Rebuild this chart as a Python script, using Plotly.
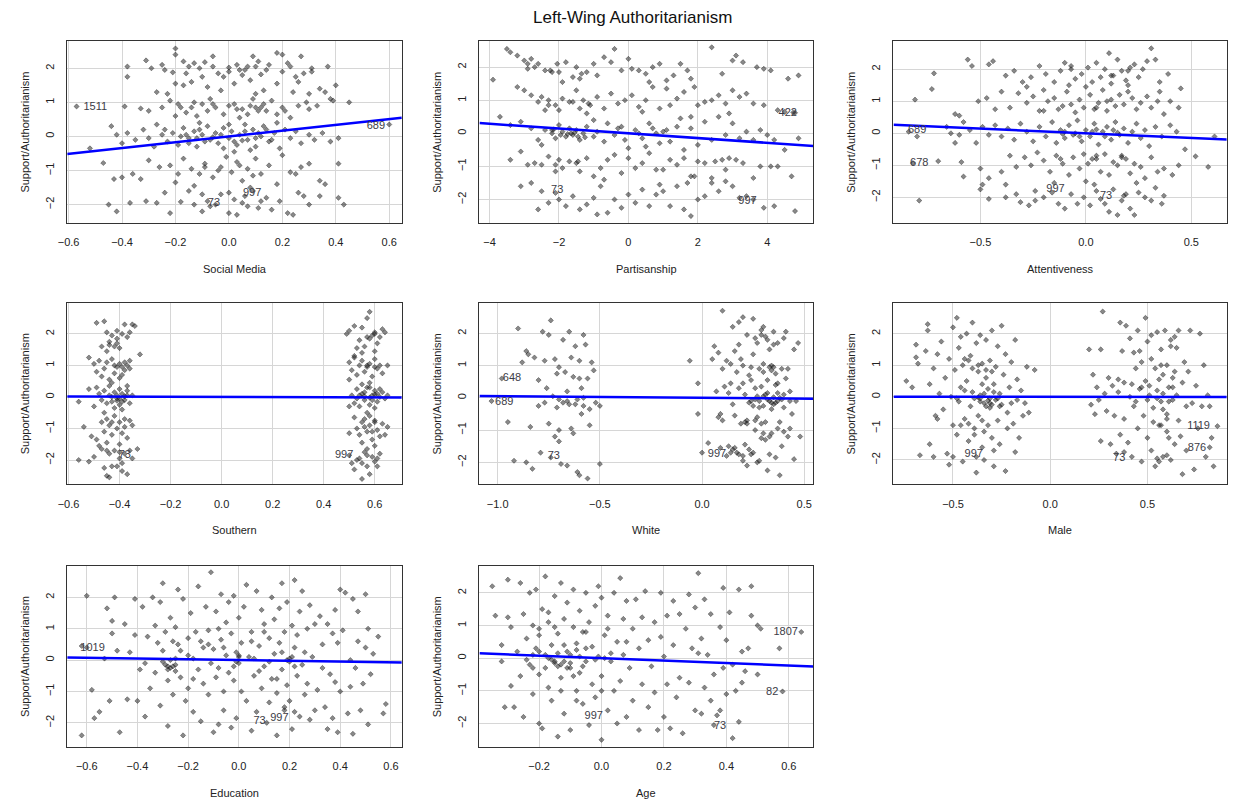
import plotly.graph_objects as go

# ---------------- data: added-variable residuals per predictor ----------------
social_media_pts = [
    (-0.38,2.05),(-0.31,2.23),(-0.29,2.0),(-0.25,2.1),(-0.21,1.88),(-0.2,2.4),(-0.2,2.58),(-0.17,2.2),(-0.15,2.05),(-0.13,2.15),
    (-0.11,2.0),(-0.09,2.18),(-0.06,2.05),(-0.04,1.85),(-0.02,1.75),(0.0,2.02),(0.0,1.9),(0.03,2.1),(0.06,1.95),(0.07,2.05),
    (0.09,2.35),(0.11,2.2),(0.12,1.82),(0.14,1.95),(0.18,2.45),(0.2,2.4),(0.2,1.9),(0.23,2.05),(0.25,1.75),(0.27,2.35),
    (0.31,2.0),(0.31,1.9),(0.37,2.05),(-0.06,2.35),(0.15,2.1),(0.22,2.15),(-0.24,1.95),(0.05,1.8),(-0.1,1.75),(0.28,1.85),
    (-0.27,1.3),(-0.23,1.25),(-0.17,1.5),(-0.14,1.6),(-0.08,1.45),(-0.03,1.35),(0.02,1.55),(0.08,1.65),(0.1,1.25),(0.13,1.35),
    (0.18,1.55),(0.24,1.3),(0.3,1.25),(0.34,1.4),(0.38,1.1),(0.4,1.5),(0.36,1.3),(-0.38,1.75),(0.26,1.6),(-0.2,1.55),
    (-0.39,0.88),(-0.33,0.82),(-0.3,0.75),(-0.25,0.85),(-0.22,1.05),(-0.18,0.85),(-0.16,0.7),(-0.13,1.0),(-0.1,0.95),(-0.08,0.75),
    (-0.05,0.85),(-0.02,0.65),(0.0,0.9),(0.02,0.95),(0.05,0.8),(0.07,0.65),(0.09,1.1),(0.1,0.85),(0.12,0.85),(0.14,0.75),
    (0.16,1.05),(0.2,0.85),(0.21,0.75),(0.23,0.55),(0.26,0.9),(0.29,1.0),(0.3,0.8),(0.33,0.9),(0.39,1.05),(0.45,1.0),
    (-0.12,0.6),(0.04,0.55),(-0.2,0.6),(0.18,0.65),(-0.07,1.1),(-0.57,0.88),
    (-0.52,-0.35),(-0.44,0.3),(-0.42,0.05),(-0.4,-0.2),(-0.38,0.1),(-0.35,-0.1),(-0.32,0.2),(-0.3,-0.05),(-0.27,0.35),(-0.25,0.05),
    (-0.23,-0.15),(-0.21,0.1),(-0.19,-0.25),(-0.17,0.25),(-0.15,-0.05),(-0.13,0.15),(-0.12,-0.3),(-0.1,0.05),(-0.08,0.3),(-0.07,-0.1),
    (-0.05,0.1),(-0.04,-0.2),(-0.02,0.25),(0.0,-0.05),(0.01,0.15),(0.03,-0.25),(0.04,0.05),(0.06,0.35),(0.07,-0.1),(0.09,0.2),
    (0.1,-0.3),(0.12,0.0),(0.13,0.3),(0.15,-0.15),(0.17,0.1),(0.19,-0.35),(0.21,0.2),(0.23,-0.05),(0.25,0.15),(0.27,-0.2),
    (0.3,0.05),(0.32,-0.1),(0.35,0.1),(0.38,-0.15),(0.41,-0.05),(0.6,0.35),(-0.11,0.4),(0.08,-0.4),(-0.28,-0.3),(0.18,0.4),
    (0.02,-0.45),(-0.16,0.05),(-0.06,-0.02),(0.05,-0.12),(-0.09,-0.15),(0.11,0.1),
    (-0.47,-0.78),(-0.4,-1.2),(-0.36,-1.1),(-0.33,-1.25),(-0.3,-0.7),(-0.26,-0.9),(-0.22,-0.85),(-0.19,-1.1),(-0.17,-0.65),(-0.14,-0.95),
    (-0.11,-1.1),(-0.09,-0.8),(-0.06,-1.2),(-0.03,-0.9),(-0.01,-0.6),(0.01,-1.05),(0.03,-0.75),(0.05,-1.3),(0.07,-0.95),(0.1,-0.65),
    (0.12,-1.1),(0.15,-0.85),(0.18,-1.4),(0.2,-0.55),(0.23,-1.05),(0.25,-1.1),(0.27,-0.9),(0.3,-0.8),(0.34,-1.3),(0.36,-1.4),
    (0.41,-0.8),(-0.43,-1.25),(-0.13,-1.45),(0.08,-1.5),(-0.2,-1.35),
    (-0.45,-2.0),(-0.42,-2.2),(-0.37,-1.95),(-0.31,-1.9),(-0.27,-1.95),(-0.22,-2.25),(-0.18,-1.92),(-0.15,-1.6),(-0.13,-2.0),(-0.1,-2.2),
    (-0.08,-1.9),(-0.05,-2.0),(-0.03,-1.7),(0.0,-1.65),(0.0,-2.25),(0.03,-2.3),(0.05,-1.95),(0.07,-2.05),(0.09,-1.6),(0.11,-2.1),
    (0.14,-1.8),(0.16,-2.15),(0.19,-1.9),(0.22,-2.25),(0.24,-2.3),(0.26,-1.65),(0.28,-1.75),(0.3,-2.0),(0.34,-1.75),(0.41,-1.8),
    (0.43,-2.0),(-0.24,-1.65),(0.02,-1.85),(-0.07,-2.05),
    (-0.19,0.95),(-0.14,0.85),(-0.06,0.95),(0.03,0.8),(0.08,0.9),(0.11,0.75),(0.13,0.95),(-0.15,-0.2),(-0.11,0.2),(-0.03,0.05),
    (0.02,-0.15),(0.06,0.15),(0.1,-0.05),(-0.18,0.0),(-0.09,-0.9),(-0.04,-1.0),(0.04,-0.85),(0.09,-1.15),(-0.1,-1.7),(0.06,-1.75),
    (0.12,-1.9),(-0.16,1.85),(0.04,1.95),(0.1,2.05),(-0.12,-0.05),(0.14,0.2),(0.16,-0.1),(-0.02,-0.35),(0.0,0.35),(-0.24,0.2),
]

partisanship_pts = [
    (-3.9,1.62),(-3.5,2.55),(-3.4,2.45),(-3.2,2.35),(-3.0,2.2),(-2.9,2.1),(-2.8,2.25),(-2.7,2.0),(-2.6,2.1),(-2.4,1.9),
    (-2.2,1.85),(-2.05,2.1),(-2.0,1.85),(-1.8,2.15),(-1.6,1.7),(-1.5,2.0),(-1.4,1.65),(-1.2,1.85),(-1.0,2.1),(-0.9,1.75),
    (-0.7,2.3),(-0.5,2.15),(-0.4,2.55),(-0.2,1.9),(0.0,2.25),(0.1,1.95),(0.3,1.9),(0.5,1.8),(0.7,2.0),(0.9,2.1),
    (1.1,1.6),(1.3,1.75),(1.5,2.1),(1.7,1.9),(1.8,1.65),(2.4,2.6),(3.0,2.2),(3.1,2.35),(3.3,2.15),(3.7,2.0),
    (3.9,1.95),(4.1,1.9),(4.6,1.65),(4.9,1.75),(-1.9,1.55),(0.6,1.55),(-2.9,1.95),
    (-3.2,1.4),(-3.0,1.3),(-2.8,1.15),(-2.6,0.95),(-2.5,1.1),(-2.3,1.0),(-2.1,0.85),(-2.0,0.7),(-1.9,1.05),(-1.7,0.95),
    (-1.5,1.3),(-1.4,0.75),(-1.3,1.0),(-1.1,0.85),(-0.9,1.1),(-0.7,0.75),(-0.5,1.2),(-0.3,0.9),(-0.1,1.0),(0.1,1.15),
    (0.3,0.8),(0.5,1.0),(0.7,1.4),(0.9,0.75),(1.1,1.35),(1.2,0.85),(1.4,1.05),(1.6,1.25),(1.8,0.5),(2.0,0.85),
    (2.2,0.95),(2.4,1.0),(2.6,1.15),(2.8,0.9),(3.0,1.3),(3.2,1.1),(3.4,1.2),(3.6,0.9),(3.9,0.85),(4.3,0.7),
    (4.8,0.62),(4.5,0.65),(-1.2,0.6),(0.4,0.65),(-2.4,0.7),(1.9,1.4),(2.7,1.8),
    (-3.7,0.5),(-3.4,0.25),(-3.1,0.35),(-2.8,0.15),(-2.6,-0.2),(-2.4,0.1),(-2.2,0.0),(-2.1,-0.15),(-2.0,0.25),(-1.9,0.05),
    (-1.8,-0.1),(-1.7,0.15),(-1.6,-0.05),(-1.5,0.1),(-1.4,-0.2),(-1.3,0.0),(-1.2,0.2),(-1.0,-0.1),(-0.9,0.05),(-0.7,-0.25),
    (-0.6,0.3),(-0.4,-0.05),(-0.3,0.15),(-0.1,-0.2),(0.0,-0.45),(0.2,0.1),(0.4,-0.15),(0.6,0.3),(0.8,0.0),(0.9,-0.3),
    (1.0,0.05),(1.2,-0.25),(1.4,0.2),(1.6,-0.5),(1.8,0.15),(2.0,-0.35),(2.2,0.35),(2.4,-0.2),(2.6,0.5),(2.8,-0.05),
    (3.0,0.3),(3.2,-0.15),(3.4,0.05),(3.6,-0.2),(3.8,0.1),(4.0,-0.05),(4.2,-0.2),(4.5,-0.5),(4.9,-0.15),(-1.0,0.4),
    (1.5,0.45),(-2.5,-0.35),(0.5,-0.4),(2.9,0.6),(-1.75,-0.02),(-1.55,0.02),(-2.15,0.12),(-1.25,-0.12),
    (-3.1,-0.55),(-2.9,-0.95),(-2.7,-0.9),(-2.5,-0.95),(-2.3,-0.7),(-2.1,-1.15),(-2.0,-0.8),(-1.9,-1.05),(-1.7,-0.85),(-1.5,-0.9),
    (-1.4,-1.15),(-1.2,-0.75),(-1.0,-1.3),(-0.8,-1.05),(-0.6,-0.8),(-0.4,-0.65),(-0.2,-1.2),(0.0,-0.75),(0.2,-1.05),(0.4,-0.9),
    (0.6,-0.6),(0.8,-1.1),(1.0,-1.1),(1.2,-0.8),(1.4,-0.95),(1.6,-0.75),(1.8,-1.3),(2.0,-0.85),(2.2,-0.9),(2.4,-1.35),
    (2.5,-0.85),(2.7,-0.8),(2.9,-0.75),(3.1,-0.8),(3.3,-0.9),(3.6,-1.35),(3.8,-1.0),(4.1,-1.0),(4.3,-1.0),(4.7,-1.3),
    (-3.4,-0.8),(-0.7,-1.4),(1.7,-1.5),(2.8,-1.1),
    (-3.1,-1.6),(-2.8,-1.5),(-2.5,-1.75),(-2.3,-2.1),(-2.1,-1.8),(-2.0,-2.0),(-1.8,-2.2),(-1.6,-1.9),(-1.4,-2.3),(-1.2,-2.15),
    (-1.0,-1.95),(-0.9,-2.45),(-0.8,-1.6),(-0.6,-2.4),(-0.4,-2.0),(-0.2,-2.25),(0.0,-1.85),(0.2,-2.1),(0.4,-1.7),(0.6,-2.2),
    (0.8,-1.85),(1.0,-1.75),(1.2,-2.2),(1.4,-1.6),(1.6,-2.3),(1.8,-2.5),(2.0,-2.0),(2.2,-1.9),(2.4,-1.5),(2.6,-1.75),
    (2.8,-1.45),(3.0,-1.6),(3.2,-1.95),(3.4,-1.9),(3.6,-2.0),(3.9,-2.25),(4.2,-2.2),(4.8,-2.35),(-2.6,-2.3),(0.9,-1.55),
    (1.9,-1.3),(4.75,0.63),
    (-2.2,0.1),(-1.95,-0.05),(-1.65,0.0),(-1.45,-0.1),(-2.3,0.85),(-1.6,0.95),(-1.15,0.9),(-2.1,-0.95),(-1.45,-0.85),(-2.25,1.9),
    (-1.35,1.8),(0.3,0.0),(0.7,0.15),(-0.2,0.2),(1.1,0.1),
]

attentiveness_pts = [
    (-0.72,1.87),(-0.81,1.05),(-0.73,1.38),(-0.56,2.3),(-0.54,2.1),(-0.46,2.15),(-0.44,2.25),(-0.38,1.8),(-0.34,1.95),(-0.3,1.6),
    (-0.26,1.75),(-0.22,2.1),(-0.19,1.85),(-0.15,1.6),(-0.12,1.95),(-0.1,2.2),(-0.07,2.1),(-0.05,1.7),(-0.02,1.85),(0.01,2.05),
    (0.03,1.6),(0.05,2.2),(0.07,1.75),(0.09,2.0),(0.11,2.5),(0.13,1.8),(0.15,2.3),(0.17,1.95),(0.19,1.65),(0.21,2.05),
    (0.23,2.15),(0.25,1.75),(0.27,2.0),(0.29,2.25),(0.31,2.65),(0.33,2.3),(0.35,1.6),(0.39,1.85),(-0.28,1.45),(0.0,1.45),
    (0.2,1.5),(-0.08,1.5),(0.12,1.55),
    (-0.51,1.0),(-0.47,1.1),(-0.43,0.75),(-0.4,1.3),(-0.36,0.8),(-0.32,1.25),(-0.28,0.95),(-0.25,1.15),(-0.22,0.7),(-0.18,1.0),
    (-0.15,1.1),(-0.13,0.75),(-0.11,0.85),(-0.09,1.3),(-0.07,0.9),(-0.05,0.65),(-0.03,1.05),(-0.01,0.8),(0.02,1.2),(0.04,0.75),
    (0.06,0.95),(0.08,1.35),(0.1,0.7),(0.12,1.05),(0.14,0.85),(0.16,1.2),(0.18,0.9),(0.2,1.3),(0.22,1.1),(0.24,0.75),
    (0.26,0.95),(0.29,1.15),(0.31,0.8),(0.34,1.0),(0.37,0.6),(0.4,1.0),(0.44,0.8),(0.45,1.4),(-0.6,0.55),(-0.62,0.6),
    (0.35,1.3),(-0.2,1.35),
    (-0.84,0.05),(-0.8,-0.1),(-0.66,0.2),(-0.64,0.0),(-0.62,-0.3),(-0.58,0.35),(-0.55,0.1),(-0.52,-0.3),(-0.49,0.2),(-0.46,-0.05),
    (-0.43,0.25),(-0.4,-0.1),(-0.37,0.15),(-0.34,-0.2),(-0.31,0.3),(-0.28,0.05),(-0.25,-0.25),(-0.22,0.2),(-0.19,-0.1),(-0.16,0.35),
    (-0.14,-0.3),(-0.12,0.1),(-0.1,-0.15),(-0.08,0.25),(-0.06,-0.05),(-0.04,0.4),(-0.02,-0.25),(0.0,0.1),(0.02,-0.1),(0.04,0.3),
    (0.06,-0.35),(0.08,0.05),(0.1,0.2),(0.12,-0.2),(0.14,0.35),(0.16,-0.05),(0.18,0.15),(0.2,-0.3),(0.22,0.05),(0.24,0.3),
    (0.26,-0.15),(0.28,0.1),(0.3,-0.4),(0.33,0.2),(0.36,-0.1),(0.4,0.25),(0.43,0.05),(0.47,-0.5),(0.61,-0.1),(-0.6,-0.05),
    (-0.11,-0.02),(0.05,0.12),(-0.03,-0.1),(0.15,0.02),(-0.82,-0.93),
    (-0.7,-0.87),(-0.59,-0.9),(-0.58,-1.35),(-0.5,-1.1),(-0.46,-1.4),(-0.4,-1.2),(-0.36,-0.7),(-0.33,-1.05),(-0.29,-0.75),(-0.26,-1.0),
    (-0.23,-0.6),(-0.2,-0.85),(-0.17,-1.2),(-0.14,-0.7),(-0.11,-0.95),(-0.08,-1.3),(-0.06,-0.75),(-0.03,-1.1),(-0.01,-0.65),(0.01,-0.95),
    (0.03,-0.8),(0.05,-0.7),(0.07,-1.2),(0.09,-0.65),(0.11,-1.3),(0.13,-0.9),(0.15,-1.0),(0.17,-0.7),(0.19,-0.8),(0.21,-1.25),
    (0.23,-0.95),(0.26,-1.05),(0.28,-1.4),(0.31,-0.75),(0.34,-1.2),(0.37,-1.1),(0.41,-1.3),(0.44,-1.0),(0.52,-0.72),(0.58,-1.05),
    (-0.38,-1.6),(0.0,-1.5),(0.24,-1.55),
    (-0.79,-2.1),(-0.5,-1.75),(-0.49,-1.6),(-0.46,-2.05),(-0.38,-2.0),(-0.33,-1.9),(-0.31,-2.15),(-0.27,-2.25),(-0.24,-2.1),(-0.2,-2.0),
    (-0.16,-1.85),(-0.13,-2.2),(-0.1,-2.35),(-0.07,-1.9),(-0.04,-2.2),(-0.01,-2.0),(0.02,-2.25),(0.05,-1.8),(0.07,-2.05),(0.09,-2.2),
    (0.11,-2.45),(0.13,-1.75),(0.15,-2.55),(0.17,-2.1),(0.19,-1.9),(0.21,-2.35),(0.23,-2.55),(0.25,-1.85),(0.28,-2.0),(0.31,-2.1),
    (0.33,-1.7),(0.36,-2.2),(0.37,-1.95),(-0.24,-1.8),(0.04,-1.6),(-0.15,-1.55),
    (-0.05,0.0),(0.03,0.05),(0.09,-0.1),(0.13,0.1),(-0.1,0.05),(0.05,0.8),(0.1,1.0),(-0.12,-0.8),(0.05,-0.8),(0.17,-0.75),
    (0.12,1.8),(0.2,1.95),(-0.07,2.0),(0.18,-1.95),(-0.2,0.7),
]

southern_pts = [
    (-0.49,2.35),(-0.46,2.4),(-0.45,2.05),(-0.43,1.95),(-0.41,2.1),(-0.39,2.0),(-0.37,1.9),(-0.38,2.3),(-0.35,2.3),(-0.34,2.25),
    (-0.44,1.75),(-0.42,1.6),(-0.4,1.55),(-0.47,1.6),(-0.41,1.85),(-0.36,2.05),(-0.32,1.35),(-0.45,1.45),
    (-0.52,1.25),(-0.5,1.05),(-0.48,1.15),(-0.46,0.9),(-0.45,1.1),(-0.43,1.2),(-0.42,0.75),(-0.41,0.95),(-0.4,1.05),(-0.39,0.7),
    (-0.38,0.85),(-0.37,1.0),(-0.36,1.15),(-0.47,0.65),(-0.44,0.55),(-0.4,0.6),(-0.43,0.45),(-0.49,0.8),
    (-0.56,-0.15),(-0.52,0.25),(-0.5,-0.3),(-0.49,0.3),(-0.48,0.1),(-0.47,-0.1),(-0.46,0.2),(-0.45,-0.2),(-0.44,0.05),(-0.43,-0.15),
    (-0.42,0.15),(-0.41,-0.05),(-0.4,-0.25),(-0.39,0.1),(-0.38,-0.1),(-0.37,0.2),(-0.36,-0.2),(-0.35,0.05),(-0.42,-0.35),(-0.44,0.35),
    (-0.39,-0.4),(-0.37,0.35),(-0.46,-0.5),(-0.4,-0.05),(-0.38,0.02),(-0.41,-0.12),
    (-0.54,-0.95),(-0.51,-1.25),(-0.49,-1.35),(-0.47,-0.8),(-0.46,-1.1),(-0.45,-0.7),(-0.44,-0.9),(-0.43,-1.2),(-0.42,-0.6),(-0.41,-1.0),
    (-0.4,-0.8),(-0.39,-1.15),(-0.38,-0.95),(-0.37,-1.3),(-0.36,-0.75),(-0.35,-0.9),(-0.45,-1.45),(-0.4,-1.5),(-0.48,-1.55),
    (-0.56,-2.0),(-0.52,-2.05),(-0.5,-1.9),(-0.47,-1.65),(-0.46,-2.25),(-0.45,-2.5),(-0.44,-1.8),(-0.43,-2.2),(-0.42,-1.7),(-0.41,-2.2),
    (-0.4,-1.95),(-0.39,-2.1),(-0.38,-1.8),(-0.37,-2.45),(-0.36,-1.7),(-0.35,-1.95),(-0.33,-1.65),(-0.44,-2.55),(-0.39,-2.35),
    (-0.43,0.0),(-0.41,0.05),(-0.39,-0.15),(-0.4,0.25),(-0.42,1.0),(-0.39,0.95),(-0.44,1.65),(-0.41,1.7),(-0.43,-0.8),(-0.38,-0.7),
    (-0.45,-1.7),(-0.4,-1.75),(-0.37,0.05),(-0.38,1.1),(-0.36,0.9),
    (0.49,2.0),(0.5,2.1),(0.52,2.25),(0.54,1.8),(0.55,2.2),(0.56,1.6),(0.57,2.5),(0.58,2.7),(0.59,1.95),(0.6,2.05),
    (0.61,1.7),(0.62,1.9),(0.63,2.15),(0.64,2.05),(0.55,1.4),(0.6,1.45),(0.57,1.9),(0.53,1.55),
    (0.5,1.1),(0.51,0.85),(0.52,1.25),(0.53,0.7),(0.54,1.0),(0.55,1.15),(0.56,0.8),(0.57,0.95),(0.58,1.05),(0.59,0.65),
    (0.6,1.2),(0.61,0.9),(0.62,1.0),(0.63,0.75),(0.65,1.0),(0.5,0.55),(0.58,0.45),(0.52,1.3),
    (0.51,0.05),(0.52,-0.2),(0.53,0.25),(0.54,-0.3),(0.55,0.1),(0.56,-0.1),(0.57,0.3),(0.58,-0.25),(0.59,0.05),(0.6,0.2),
    (0.61,-0.15),(0.62,0.0),(0.63,0.15),(0.64,-0.05),(0.65,0.05),(0.5,-0.3),(0.55,0.4),(0.6,-0.35),(0.57,-0.5),(0.53,-0.05),
    (0.58,-0.02),(0.6,0.08),(0.56,0.02),
    (0.52,-0.65),(0.53,-1.0),(0.54,-1.2),(0.55,-0.8),(0.56,-0.7),(0.57,-1.1),(0.58,-0.9),(0.59,-1.35),(0.6,-0.75),(0.61,-1.05),
    (0.62,-1.25),(0.63,-0.85),(0.65,-0.95),(0.5,-1.15),(0.55,-1.45),(0.6,-1.55),(0.64,-1.2),(0.58,-0.6),
    (0.5,-1.85),(0.51,-2.1),(0.52,-2.3),(0.54,-1.95),(0.55,-2.1),(0.56,-1.75),(0.57,-2.2),(0.58,-2.45),(0.59,-1.9),(0.6,-2.05),
    (0.61,-2.2),(0.62,-1.8),(0.55,-2.6),(0.57,-1.65),(0.53,-2.0),
    (0.56,0.15),(0.59,-0.1),(0.61,0.1),(0.57,1.0),(0.6,0.95),(0.58,1.85),(0.6,2.0),(0.56,-0.95),(0.59,-1.1),(0.57,-1.85),
    (0.61,-1.95),(0.62,0.25),(0.54,0.05),(0.58,0.3),(0.6,-0.8),
]

white_pts = [
    (-0.92,-1.95),(-0.9,2.15),(-0.88,1.1),(-0.86,1.45),(-0.85,1.35),(-0.84,-0.9),(-0.83,-2.2),(-0.82,1.25),(-0.8,0.55),(-0.79,-1.7),
    (-0.78,2.05),(-0.77,1.15),(-0.76,0.3),(-0.75,-0.8),(-0.74,2.4),(-0.73,0.05),(-0.72,1.2),(-0.71,-0.3),(-0.7,-1.0),(-0.7,0.95),
    (-0.69,-2.05),(-0.68,1.8),(-0.67,0.8),(-0.66,-0.1),(-0.65,2.05),(-0.64,-0.95),(-0.63,0.65),(-0.62,1.6),(-0.62,-0.2),(-0.61,-2.3),
    (-0.6,1.15),(-0.6,0.6),(-0.59,-0.5),(-0.58,1.95),(-0.58,-0.25),(-0.57,1.65),(-0.56,0.6),(-0.56,-2.5),(-0.55,-0.85),(-0.54,1.1),
    (-0.53,0.85),(-0.52,-0.15),(-0.5,-0.25),(-0.5,-2.05),(-0.8,-0.25),(-0.77,-0.15),(-0.72,-1.2),(-0.68,-0.15),(-0.66,0.2),(-0.63,-1.1),
    (-0.58,0.0),(-0.7,-1.35),(-0.66,-2.1),(-0.6,-2.4),(-0.75,1.95),(-0.64,1.25),(-0.71,0.75),(-0.86,-2.0),(-0.98,0.6),(-1.03,-0.1),
    (-0.95,-0.75),(-0.74,-1.85),(-0.59,0.3),(-0.55,-0.35),(-0.7,-0.05),(-0.65,-0.2),(-0.61,-0.05),
    (-0.06,1.15),(-0.02,0.45),(-0.02,-0.5),(0.0,-1.7),(0.03,-1.4),(0.05,1.2),(0.06,1.6),(0.07,0.2),(0.08,1.4),(0.09,-0.5),
    (0.1,-0.7),(0.1,0.9),(0.12,1.15),(0.13,-1.5),(0.14,0.45),(0.15,2.2),(0.15,-0.2),(0.16,1.45),(0.17,-1.7),(0.18,0.3),
    (0.18,2.35),(0.19,-0.8),(0.2,1.0),(0.2,-1.95),(0.21,0.1),(0.22,1.95),(0.22,-0.7),(0.23,0.7),(0.23,-1.6),(0.24,-0.1),
    (0.25,1.35),(0.25,2.45),(0.26,-1.0),(0.26,0.3),(0.27,1.7),(0.27,-2.0),(0.28,0.9),(0.28,-0.3),(0.29,2.1),(0.29,-1.25),
    (0.3,0.05),(0.3,1.05),(0.31,-0.75),(0.31,1.9),(0.32,-2.25),(0.32,0.55),(0.33,-0.1),(0.33,1.5),(0.34,-1.1),(0.34,0.85),
    (0.35,-0.2),(0.35,2.05),(0.36,-1.85),(0.36,0.4),(0.37,-0.95),(0.37,1.7),(0.38,0.0),(0.38,-2.4),(0.39,0.9),(0.39,-1.5),
    (0.4,1.85),(0.4,-0.3),(0.41,0.6),(0.42,-1.2),(0.43,0.2),(0.44,-0.5),(0.45,1.5),(0.46,-0.1),(0.47,1.7),(0.48,-1.2),
    (0.12,-1.8),(0.16,-0.55),(0.2,0.45),(0.24,0.95),(0.18,1.65),(0.27,-0.6),(0.33,-1.75),(0.3,-0.25),(0.36,-0.15),(0.21,-1.45),
    (0.14,1.05),(0.25,-1.7),(0.29,0.35),(0.34,1.0),(0.38,-0.75),(0.41,2.05),(0.11,0.35),(0.09,-1.55),(0.22,-2.1),(0.31,-1.3),
    (0.26,1.85),(0.23,-0.15),(0.35,0.95),(0.4,-1.05),(0.17,0.8),(0.28,-1.95),(0.19,1.2),(0.32,0.15),(0.37,0.45),(0.43,-0.95),
    (0.24,0.55),(0.15,-1.6),(0.08,-0.6),(0.13,0.15),(0.3,2.2),(0.42,0.9),(0.45,-1.9),(0.27,0.05),(0.34,-0.35),(0.39,-0.05),
    (0.1,2.7),(0.2,2.5),(0.26,-0.05),(0.32,-0.05),(0.35,0.02),(0.37,-0.1),(0.29,-0.8),(0.21,-0.75),(0.18,-1.75),(0.14,-1.7),
    (0.3,0.8),(0.33,0.95),(0.36,0.75),(0.28,-0.1),(0.31,0.1),(0.34,-0.15),(0.37,0.15),(0.25,-0.25),(0.22,-0.8),(0.26,-0.7),
    (0.3,-1.1),(0.33,-1.2),(0.16,-1.55),(0.2,-1.8),(0.24,-1.75),(0.29,1.95),(0.32,1.8),(0.35,1.65),(0.4,0.1),(0.43,-0.1),
]

male_pts = [
    (-0.74,0.5),(-0.71,0.3),(-0.69,1.65),(-0.69,1.25),(-0.68,1.05),(-0.67,-1.85),(-0.64,1.45),(-0.63,2.3),(-0.63,2.1),(-0.62,0.4),
    (-0.62,-1.5),(-0.6,0.9),(-0.6,-1.9),(-0.59,-0.6),(-0.58,1.35),(-0.58,-0.7),(-0.57,0.1),(-0.56,1.75),(-0.55,-0.4),(-0.54,0.6),
    (-0.53,-1.8),(-0.52,1.2),(-0.52,-2.15),(-0.51,0.0),(-0.5,2.2),(-0.5,-0.9),(-0.49,0.85),(-0.48,2.5),(-0.48,-1.2),(-0.47,1.55),
    (-0.47,-0.15),(-0.46,0.3),(-0.45,-2.05),(-0.45,1.0),(-0.44,-0.7),(-0.43,2.0),(-0.43,0.5),(-0.42,-1.4),(-0.41,1.3),(-0.41,-0.3),
    (-0.4,2.35),(-0.4,0.15),(-0.39,-1.0),(-0.38,1.7),(-0.38,-2.4),(-0.37,0.8),(-0.37,-0.6),(-0.36,1.95),(-0.36,0.05),(-0.35,-1.6),
    (-0.35,1.05),(-0.34,-0.2),(-0.34,-2.0),(-0.33,0.6),(-0.33,1.8),(-0.32,-0.9),(-0.32,0.25),(-0.31,1.15),(-0.31,-0.35),(-0.3,-1.3),
    (-0.3,2.1),(-0.29,0.4),(-0.29,-2.2),(-0.28,-0.1),(-0.28,0.95),(-0.27,1.6),(-0.27,-0.75),(-0.26,0.1),(-0.26,-1.5),(-0.25,2.25),
    (-0.25,-0.25),(-0.24,0.7),(-0.23,-2.35),(-0.23,1.35),(-0.22,-0.5),(-0.22,-1.0),(-0.21,0.3),(-0.2,1.1),(-0.2,-0.2),(-0.19,-0.85),
    (-0.18,1.8),(-0.18,-1.75),(-0.17,0.55),(-0.17,-0.1),(-0.16,-1.3),(-0.15,0.2),(-0.14,-0.6),(-0.13,-0.2),(-0.12,0.95),(-0.11,-0.5),
    (-0.08,0.85),(-0.46,-0.9),(-0.42,1.15),(-0.39,-0.05),(-0.35,0.4),(-0.31,-0.2),(-0.44,0.2),(-0.48,-0.05),(-0.34,-1.1),(-0.5,-1.9),
    (-0.38,-1.9),(-0.3,0.8),(-0.26,-0.3),(-0.4,0.9),(-0.36,-0.15),(-0.33,-0.3),(-0.46,1.9),(-0.29,-1.7),(-0.37,-0.02),(-0.32,-0.12),
    (-0.36,-0.05),(-0.34,0.1),(-0.31,-0.05),(-0.29,0.15),(-0.33,0.85),(-0.37,1.0),(-0.42,-0.85),(-0.39,-1.2),(-0.35,-0.75),(-0.44,1.2),
    (-0.3,-0.25),(-0.27,-0.05),
    (0.2,1.5),(0.21,-0.25),(0.22,0.7),(0.23,-0.55),(0.24,0.3),(0.25,-0.1),(0.26,1.5),(0.26,-1.4),(0.27,2.7),(0.28,0.1),
    (0.29,-0.45),(0.3,0.6),(0.31,-1.5),(0.32,0.35),(0.33,-0.6),(0.34,-1.8),(0.35,0.15),(0.36,2.35),(0.36,-1.2),(0.37,1.45),
    (0.38,-0.7),(0.38,0.45),(0.39,2.25),(0.4,-1.45),(0.41,1.85),(0.41,0.0),(0.42,-1.9),(0.43,1.4),(0.43,-0.3),(0.44,0.9),
    (0.45,-1.0),(0.45,2.1),(0.46,0.25),(0.47,-2.05),(0.47,1.1),(0.48,-0.6),(0.49,2.5),(0.49,0.5),(0.5,-1.3),(0.5,1.75),
    (0.51,0.05),(0.52,-1.7),(0.52,1.2),(0.53,-0.35),(0.54,0.9),(0.54,-2.2),(0.55,2.05),(0.55,0.2),(0.56,-0.9),(0.57,1.5),
    (0.57,-0.15),(0.58,-1.9),(0.58,0.7),(0.59,2.1),(0.6,-0.55),(0.6,1.0),(0.61,-1.3),(0.61,0.3),(0.62,1.8),(0.62,-2.0),
    (0.63,-0.1),(0.64,0.8),(0.64,-1.5),(0.65,1.55),(0.65,0.05),(0.66,-0.75),(0.66,2.1),(0.67,-1.25),(0.68,0.45),(0.68,-2.45),
    (0.69,1.1),(0.7,-0.3),(0.7,-1.7),(0.71,0.8),(0.72,2.1),(0.73,-0.2),(0.74,-2.3),(0.75,0.35),(0.76,-1.0),(0.77,2.0),
    (0.78,-0.3),(0.79,1.0),(0.8,-1.9),(0.81,0.05),(0.82,-0.3),(0.83,-1.3),(0.84,-2.2),(0.86,-0.93),(0.82,-1.6),(0.44,-0.15),
    (0.47,0.3),(0.51,0.35),(0.53,-0.8),(0.56,0.55),(0.58,-0.4),(0.42,0.4),(0.38,-1.75),(0.6,-1.1),(0.63,0.6),(0.46,1.45),
    (0.55,-1.95),(0.35,0.55),(0.5,-0.1),(0.57,1.0),(0.52,1.95),
    (0.55,-0.05),(0.58,0.1),(0.61,-0.15),(0.63,0.3),(0.57,-0.9),(0.6,-0.7),(0.56,-2.05),(0.6,-1.85),(0.62,1.6),(0.64,1.9),
]

education_pts = [
    (-0.62,-2.4),(-0.6,2.05),(-0.58,-0.95),(-0.57,-1.85),(-0.55,-1.65),(-0.53,0.05),(-0.52,1.65),(-0.51,-1.3),(-0.5,1.25),(-0.5,0.85),
    (-0.49,2.0),(-0.48,0.3),(-0.47,-2.3),(-0.45,1.15),(-0.44,-1.25),(-0.43,0.25),(-0.41,1.95),(-0.41,0.8),(-0.4,-1.3),(-0.39,-0.3),
    (-0.38,1.7),(-0.37,-0.1),(-0.37,-1.8),(-0.36,0.75),(-0.35,-0.9),(-0.34,2.0),(-0.33,-0.4),(-0.33,1.1),(-0.32,0.55),(-0.31,-1.45),
    (-0.31,1.85),(-0.3,-0.05),(-0.3,2.45),(-0.29,0.9),(-0.28,-0.65),(-0.28,-2.1),(-0.27,-0.25),(-0.27,1.35),(-0.26,0.6),(-0.26,-1.1),
    (-0.25,1.05),(-0.25,-0.15),(-0.24,2.25),(-0.23,0.3),(-0.23,-0.55),(-0.22,-2.4),(-0.22,1.95),(-0.21,-1.3),(-0.2,0.7),(-0.2,-0.9),
    (-0.19,1.5),(-0.18,0.05),(-0.18,-1.65),(-0.17,0.9),(-0.16,-0.3),(-0.16,2.35),(-0.15,-1.95),(-0.14,0.4),(-0.14,-0.75),(-0.13,1.7),
    (-0.12,-1.1),(-0.12,0.95),(-0.11,2.8),(-0.11,-0.1),(-0.1,-2.3),(-0.1,0.35),(-0.09,1.55),(-0.09,-0.55),(-0.08,-2.05),(-0.07,2.1),
    (-0.07,0.65),(-0.06,-1.0),(-0.06,-1.6),(-0.05,1.2),(-0.05,0.15),(-0.04,-0.4),(-0.04,1.85),(-0.03,-2.15),(-0.03,0.85),(-0.02,-0.65),
    (-0.02,2.05),(-0.01,0.25),(-0.01,-1.85),(0.0,1.35),(0.0,-0.1),(0.01,-1.0),(0.01,0.55),(0.02,1.7),(0.03,-1.3),(0.03,2.4),
    (0.04,0.1),(0.05,-2.25),(0.05,0.9),(0.06,-0.5),(0.07,2.2),(0.07,-1.65),(0.08,0.45),(0.09,1.6),(0.09,-0.9),(0.1,-0.2),
    (0.1,1.15),(0.11,-2.0),(0.12,0.7),(0.12,-1.35),(0.13,2.0),(0.13,-0.6),(0.14,0.2),(0.14,1.3),(0.15,-2.4),(0.15,-1.05),
    (0.16,1.65),(0.16,0.55),(0.17,-0.3),(0.17,2.45),(0.18,-1.6),(0.18,0.9),(0.19,1.85),(0.19,-0.8),(0.2,0.05),(0.2,-1.3),
    (0.21,1.1),(0.21,-2.2),(0.22,0.4),(0.22,2.55),(0.23,-0.5),(0.23,0.8),(0.24,-1.8),(0.24,1.55),(0.25,-0.15),(0.25,2.2),
    (0.26,-1.1),(0.26,0.25),(0.27,1.0),(0.27,-0.75),(0.28,-1.9),(0.29,0.1),(0.3,-1.6),(0.3,1.15),(0.31,-0.95),(0.32,1.4),
    (0.33,-0.25),(0.34,-1.5),(0.35,1.15),(0.35,-2.2),(0.36,-0.45),(0.37,0.85),(0.37,-1.85),(0.38,1.6),(0.38,-0.7),(0.39,-2.3),
    (0.39,0.55),(0.4,2.25),(0.4,-1.0),(0.41,0.95),(0.42,2.15),(0.43,-1.7),(0.44,0.0),(0.45,1.95),(0.45,-2.35),(0.46,-0.25),
    (0.47,1.55),(0.48,-1.6),(0.49,-0.75),(0.5,2.1),(0.5,0.4),(0.51,-2.05),(0.51,1.0),(0.52,-0.45),(0.53,0.2),(0.55,0.75),
    (0.57,-1.7),(0.58,-1.4),(0.47,0.6),(0.44,-0.85),(0.33,0.5),(0.28,1.75),(-0.29,-0.15),(-0.27,0.0),(-0.25,-0.35),(-0.28,-0.2),
    (0.0,0.15),(-0.02,-0.2),(0.2,-0.05),(0.22,-0.2),(-0.3,0.3),(-0.24,0.5),(0.06,0.05),(-0.06,0.4),(0.12,-0.05),(-0.2,0.15),
    (0.17,0.25),(-0.08,-0.25),(0.08,-0.35),(-0.15,0.6),(-0.6,0.4),(-0.62,0.45),
    (-0.28,-0.3),(-0.26,-0.2),(-0.25,0.05),(0.0,0.1),(-0.01,-0.05),(0.19,0.0),(0.21,0.1),(-0.12,0.5),(0.05,0.6),(0.15,-0.6),
    (-0.18,-0.6),(0.1,0.9),(-0.08,1.0),(0.18,-1.5),(0.22,-1.65),
]

age_pts = [
    (-0.35,2.2),(-0.34,1.3),(-0.32,-0.1),(-0.32,0.4),(-0.31,-1.5),(-0.3,2.4),(-0.3,1.25),(-0.29,-0.85),(-0.29,0.95),(-0.28,-1.5),
    (-0.27,0.2),(-0.26,2.3),(-0.26,-0.55),(-0.25,1.35),(-0.25,-1.8),(-0.24,0.6),(-0.23,-0.2),(-0.23,2.0),(-0.22,1.0),(-0.22,-1.1),
    (-0.21,0.3),(-0.21,2.1),(-0.2,-2.0),(-0.2,0.9),(-0.2,-0.5),(-0.19,1.5),(-0.19,-2.15),(-0.18,0.1),(-0.18,2.5),(-0.17,-0.9),
    (-0.17,1.1),(-0.16,-1.3),(-0.16,0.4),(-0.15,1.9),(-0.15,-0.15),(-0.14,-2.4),(-0.14,0.75),(-0.13,2.3),(-0.13,-0.6),(-0.12,1.2),
    (-0.12,-1.7),(-0.11,0.2),(-0.11,1.7),(-0.1,-0.3),(-0.1,-2.2),(-0.09,0.95),(-0.09,2.1),(-0.08,-1.0),(-0.08,0.45),(-0.07,1.45),
    (-0.07,-0.45),(-0.06,-1.4),(-0.06,0.8),(-0.05,2.0),(-0.05,-0.1),(-0.04,1.1),(-0.04,-2.05),(-0.03,0.35),(-0.03,-0.8),(-0.02,1.6),
    (-0.02,-1.2),(-0.01,2.2),(-0.01,0.05),(0.0,1.85),(0.0,-0.55),(0.0,-2.5),(0.01,0.7),(0.02,-1.6),(0.02,1.3),(0.03,-0.1),
    (0.04,2.0),(0.04,-1.0),(0.05,0.5),(0.05,-2.0),(0.06,2.45),(0.06,-0.7),(0.07,1.2),(0.07,0.1),(0.08,-1.8),(0.08,1.75),
    (0.09,-0.3),(0.1,0.9),(0.1,-1.3),(0.11,1.8),(0.12,-2.2),(0.12,0.3),(0.13,1.25),(0.13,-0.8),(0.14,2.05),(0.15,-1.5),
    (0.15,0.55),(0.16,-0.25),(0.17,1.1),(0.17,-1.05),(0.18,-2.2),(0.19,0.65),(0.19,2.0),(0.2,-1.8),(0.2,0.05),(0.21,1.3),
    (0.21,-0.8),(0.22,-2.15),(0.23,0.4),(0.23,1.75),(0.24,-1.2),(0.25,-0.6),(0.25,1.35),(0.26,-2.3),(0.27,0.9),(0.28,-0.75),
    (0.28,1.95),(0.29,0.3),(0.3,-1.6),(0.3,1.55),(0.31,2.6),(0.31,0.15),(0.32,-1.7),(0.32,0.6),(0.33,1.8),(0.33,-0.9),
    (0.34,0.1),(0.35,1.35),(0.35,-1.3),(0.36,-0.5),(0.37,-1.75),(0.38,0.95),(0.38,-1.6),(0.39,2.15),(0.39,-0.3),(0.4,0.55),
    (0.4,-1.1),(0.41,1.4),(0.42,-2.45),(0.42,-0.2),(0.43,-1.0),(0.44,2.1),(0.44,-1.95),(0.45,0.2),(0.45,-0.75),(0.46,-0.4),
    (0.47,0.3),(0.48,1.3),(0.48,2.2),(0.5,1.0),(0.5,-0.5),(0.51,0.9),(0.57,0.3),(0.64,0.8),(0.58,-1.02),(0.36,-2.05),
    (-0.15,-0.1),(-0.13,-0.2),(-0.12,-0.1),(-0.1,0.1),(-0.17,0.0),(-0.08,0.25),(-0.05,0.3),(-0.02,-0.05),(0.01,0.0),(-0.2,0.2),
    (-0.22,0.1),(-0.14,0.15),(-0.06,-0.25),(0.03,0.15),(-0.18,-0.3),(-0.09,-0.55),(-0.24,-0.05),(-0.11,-0.3),
    (-0.16,-0.05),(-0.14,-0.25),(-0.1,-0.15),(-0.07,0.05),(-0.12,0.4),(-0.2,0.7),(-0.15,0.95),(-0.05,0.8),(0.02,0.9),(-0.22,-0.3),
    (-0.13,-1.0),(-0.08,-1.3),(0.0,-1.0),(-0.17,1.4),(0.08,0.5),
]

# identified observations (label text at its drawn position)
social_media_ids = [(-0.50,0.86,"1511"),(0.55,0.31,"689"),(0.087,-1.68,"997"),(-0.056,-1.97,"73")]
partisanship_ids = [(-2.05,-1.72,"73"),(3.43,-2.04,"997"),(4.59,0.62,"422")]
attentiveness_ids = [(-0.80,0.11,"689"),(-0.79,-0.93,"678"),(-0.144,-1.76,"997"),(0.096,-1.95,"73")]
southern_ids = [(-0.38,-1.86,"73"),(0.48,-1.84,"997")]
white_ids = [(-0.93,0.61,"648"),(-0.968,-0.13,"689"),(-0.725,-1.82,"73"),(0.073,-1.75,"997")]
male_ids = [(-0.393,-1.81,"997"),(0.355,-1.95,"73"),(0.763,-0.92,"1119"),(0.755,-1.63,"876")]
education_ids = [(-0.577,0.39,"1019"),(0.082,-1.94,"73"),(0.16,-1.86,"997")]
age_ids = [(0.59,0.78,"1807"),(0.547,-1.05,"82"),(0.38,-2.09,"73"),(-0.025,-1.79,"997")]

# partial-regression slopes (fitted lines through the origin of the residuals)
slopes = [0.85, -0.072, -0.29, -0.02, -0.05, -0.005, -0.12, -0.38]

predictor_names = ["Social Media", "Partisanship", "Attentiveness", "Southern",
                   "White", "Male", "Education", "Age"]
point_sets = [social_media_pts, partisanship_pts, attentiveness_pts, southern_pts,
              white_pts, male_pts, education_pts, age_pts]
id_sets = [social_media_ids, partisanship_ids, attentiveness_ids, southern_ids,
           white_ids, male_ids, education_ids, age_ids]

# ---------------- panel geometry / axis setup ----------------
W, H = 1235, 804
col_px = [(57.7, 395.0), (473.3, 810.0), (890.7, 1226.7)]
row_px = [(41.0, 223.0), (303.0, 484.3), (566.0, 747.0)]

x_ranges = [(-0.605, 0.647), (-4.29, 5.33), (-0.912, 0.668), (-0.605, 0.706),
            (-1.089, 0.545), (-0.806, 0.908), (-0.677, 0.643), (-0.391, 0.679)]
y_ranges = [(-2.54, 2.80), (-2.71, 2.79), (-2.80, 2.88), (-2.77, 2.98),
            (-2.68, 2.94), (-2.77, 2.97), (-2.77, 3.0), (-2.72, 2.82)]
x_ticks = [
    [-0.6, -0.4, -0.2, 0.0, 0.2, 0.4, 0.6],
    [-4, -2, 0, 2, 4],
    [-0.5, 0.0, 0.5],
    [-0.6, -0.4, -0.2, 0.0, 0.2, 0.4, 0.6],
    [-1.0, -0.5, 0.0, 0.5],
    [-0.5, 0.0, 0.5],
    [-0.6, -0.4, -0.2, 0.0, 0.2, 0.4, 0.6],
    [-0.2, 0.0, 0.2, 0.4, 0.6],
]
x_fmt = [".1f", "d", ".1f", ".1f", ".1f", ".1f", ".1f", ".1f"]
y_ticks = [-2, -1, 0, 1, 2]

FONT = "Liberation Sans, Arial, sans-serif"
TXT = "#222222"

fig = go.Figure()
layout = dict(
    width=W, height=H,
    margin=dict(l=0, r=0, t=0, b=0),
    paper_bgcolor="white", plot_bgcolor="white",
    showlegend=False,
    font=dict(family=FONT, size=11, color=TXT),
)
annotations = []

for i in range(8):
    r, c = divmod(i, 3)
    left, right = col_px[c]
    top, bottom = row_px[r]
    xa = "xaxis" if i == 0 else f"xaxis{i+1}"
    ya = "yaxis" if i == 0 else f"yaxis{i+1}"
    xref = "x" if i == 0 else f"x{i+1}"
    yref = "y" if i == 0 else f"y{i+1}"

    pts = point_sets[i]
    xs = [p[0] for p in pts]
    ys = [p[1] for p in pts]
    fig.add_trace(go.Scatter(
        x=xs, y=ys, mode="markers", xaxis=xref, yaxis=yref,
        marker=dict(symbol="diamond", size=4, color="rgba(40,40,40,0.55)",
                    line=dict(width=0.6, color="rgba(0,0,0,0.55)")),
        hoverinfo="skip"))

    lo, hi = x_ranges[i]
    fig.add_trace(go.Scatter(
        x=[lo, hi], y=[slopes[i] * lo, slopes[i] * hi], mode="lines",
        xaxis=xref, yaxis=yref, line=dict(color="#0000ff", width=2.5),
        hoverinfo="skip"))

    ids = id_sets[i]
    fig.add_trace(go.Scatter(
        x=[t[0] for t in ids], y=[t[1] for t in ids], text=[t[2] for t in ids],
        mode="text", xaxis=xref, yaxis=yref, textposition="middle center",
        textfont=dict(family=FONT, size=11, color="#3c3c46"), hoverinfo="skip"))

    layout[xa] = dict(
        domain=[left / W, right / W], anchor=yref, range=list(x_ranges[i]),
        tickvals=x_ticks[i], tickformat=x_fmt[i],
        showgrid=True, gridcolor="#d6d6d6", gridwidth=1, zeroline=False,
        showline=True, linecolor="#333333", linewidth=1, mirror=True,
        ticks="outside", ticklen=9, tickcolor="rgba(0,0,0,0)",
        tickfont=dict(family=FONT, size=11, color=TXT))
    layout[ya] = dict(
        domain=[1 - bottom / H, 1 - top / H], anchor=xref, range=list(y_ranges[i]),
        tickvals=y_ticks, tickangle=-90,
        showgrid=True, gridcolor="#d6d6d6", gridwidth=1, zeroline=False,
        showline=True, linecolor="#333333", linewidth=1, mirror=True,
        ticks="outside", ticklen=8, tickcolor="rgba(0,0,0,0)",
        tickfont=dict(family=FONT, size=11, color=TXT))

    annotations.append(dict(
        text=predictor_names[i], xref="paper", yref="paper",
        x=(left + right) / 2 / W, y=1 - (bottom + 46) / H,
        xanchor="center", yanchor="middle", showarrow=False,
        font=dict(family=FONT, size=11, color=TXT)))
    annotations.append(dict(
        text="Support/Authoritarianism", xref="paper", yref="paper",
        x=(left - 43) / W, y=1 - (top + bottom) / 2 / H, textangle=-90,
        xanchor="center", yanchor="middle", showarrow=False,
        font=dict(family=FONT, size=11, color=TXT)))

annotations.append(dict(
    text="Left-Wing Authoritarianism", xref="paper", yref="paper",
    x=628 / W, y=1 - 18 / H, xanchor="center", yanchor="middle",
    showarrow=False, font=dict(family=FONT, size=17, color="#111111")))

layout["annotations"] = annotations
fig.update_layout(**layout)
fig.write_html("out.html")
